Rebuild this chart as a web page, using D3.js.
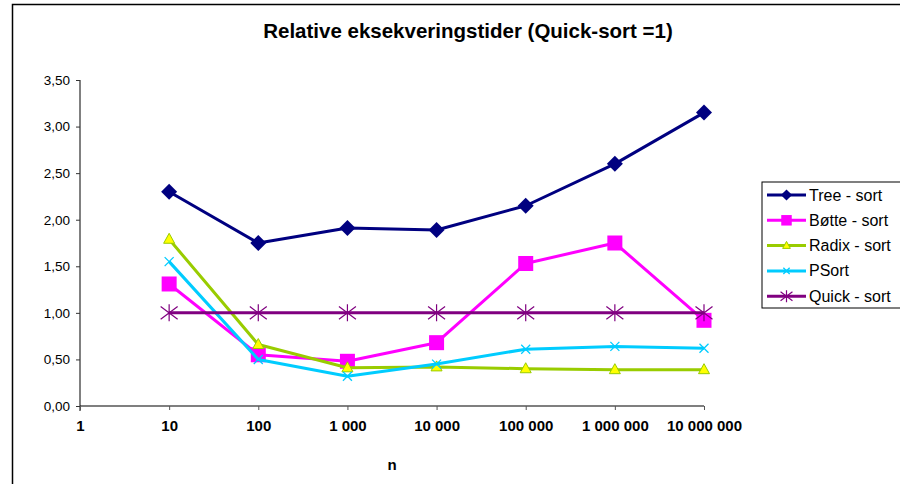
<!DOCTYPE html>
<html>
<head>
<meta charset="utf-8">
<script src="https://cdn.jsdelivr.net/npm/d3@7"></script>
<style>
  html, body { margin: 0; padding: 0; background: #fff; }
  svg { display: block; font-family: "Liberation Sans", Arial, sans-serif; }
</style>
</head>
<body>
<svg id="chart" width="900" height="484"></svg>
<script>
// relative run times, Quick-sort = 1
const CATEGORIES = ["1", "10", "100", "1 000", "10 000", "100 000", "1 000 000", "10 000 000"];
const N_VALUES   = ["10", "100", "1 000", "10 000", "100 000", "1 000 000", "10 000 000"];
const TREE  = [2.30, 1.75, 1.91, 1.89, 2.15, 2.60, 3.15];
const BOTTE = [1.31, 0.55, 0.48, 0.68, 1.53, 1.75, 0.92];
const RADIX = [1.79, 0.66, 0.41, 0.42, 0.40, 0.39, 0.39];
const PSORT = [1.55, 0.50, 0.32, 0.45, 0.61, 0.64, 0.62];
const QUICK = [1.00, 1.00, 1.00, 1.00, 1.00, 1.00, 1.00];
const Y_TICKS = [0, 0.5, 1, 1.5, 2, 2.5, 3, 3.5];

const SERIES = [
  {name: "Tree - sort",  values: TREE,  color: "#000080", marker: "diamond"},
  {name: "Bøtte - sort", values: BOTTE, color: "#ff00ff", marker: "square"},
  {name: "Radix - sort", values: RADIX, color: "#99cc00", marker: "triangle"},
  {name: "PSort",        values: PSORT, color: "#00ccff", marker: "cross"},
  {name: "Quick - sort", values: QUICK, color: "#800080", marker: "star"},
];

const svg = d3.select("#chart");
const x = d3.scalePoint(CATEGORIES, [80, 704]);
const y = d3.scaleLinear([0, 3.5], [406, 80]);
const comma = d3.formatLocale({decimal: ",", thousands: " ", grouping: [3], currency: ["", ""]}).format(".2f");

// outer frame
svg.append("path").attr("d", "M12.5,490V4.5H905")
  .attr("fill", "none").attr("stroke", "#000").attr("stroke-width", 1.5);

svg.append("text").attr("x", 468).attr("y", 38).attr("text-anchor", "middle")
  .attr("font-weight", "bold").attr("font-size", 20.5).attr("fill", "#000")
  .text("Relative eksekveringstider (Quick-sort =1)");

// y axis
const yAxis = svg.append("g").attr("transform", "translate(80,0)")
  .call(d3.axisLeft(y).tickValues(Y_TICKS).tickFormat(comma).tickSize(4).tickPadding(6));
yAxis.select(".domain").attr("d", "M0,80V411").attr("stroke", "#808080").attr("stroke-width", 2);
yAxis.selectAll(".tick line").attr("stroke", "#333");
yAxis.selectAll(".tick text").attr("font-size", 13.5).attr("fill", "#000")
  .attr("font-family", "Liberation Sans, Arial, sans-serif");

// x axis
const xAxis = svg.append("g").attr("transform", "translate(0,406)")
  .call(d3.axisBottom(x).tickSize(4).tickPadding(10));
xAxis.select(".domain").attr("d", "M80,0H704").attr("stroke", "#000").attr("stroke-width", 1.2);
xAxis.selectAll(".tick line").attr("stroke", "#555");
xAxis.selectAll(".tick text").attr("font-size", 15).attr("font-weight", "bold").attr("fill", "#000")
  .attr("font-family", "Liberation Sans, Arial, sans-serif");

svg.append("text").attr("x", 392).attr("y", 470).attr("text-anchor", "middle")
  .attr("font-weight", "bold").attr("font-size", 15).text("n");

function marker(g, kind, color, s) {
  if (kind === "diamond") {
    const r = 8 * s;
    g.append("path").attr("d", `M0,${-r}L${r},0L0,${r}L${-r},0Z`).attr("fill", color);
  } else if (kind === "square") {
    g.append("rect").attr("x", -7.5 * s).attr("y", -7.5 * s).attr("width", 15 * s).attr("height", 15 * s)
      .attr("fill", color);
  } else if (kind === "triangle") {
    g.append("path").attr("d", `M0,${-6 * s}L${5.5 * s},${4 * s}L${-5.5 * s},${4 * s}Z`)
      .attr("fill", "#ffff00").attr("stroke", color).attr("stroke-width", 1);
  } else if (kind === "cross") {
    const r = 4.5 * s;
    g.append("path").attr("d", `M${-r},${-r}L${r},${r}M${-r},${r}L${r},${-r}`)
      .attr("stroke", color).attr("stroke-width", 1.3).attr("fill", "none");
  } else if (kind === "star") {
    const r = 8.5 * s, v = 8.5 * s;
    g.append("path").attr("d", `M${-r},${-r * 0.75}L${r},${r * 0.75}M${-r},${r * 0.75}L${r},${-r * 0.75}M0,${-v}V${v}`)
      .attr("stroke", color).attr("stroke-width", 1.2).attr("fill", "none");
  }
}

const line = d3.line().x((d, i) => x(N_VALUES[i])).y((d) => y(d));
SERIES.forEach((s) => {
  const g = svg.append("g");
  g.append("path").datum(s.values).attr("d", line).attr("fill", "none")
    .attr("stroke", s.color).attr("stroke-width", 3).attr("stroke-linejoin", "round");
  g.selectAll("g.pt").data(s.values).join("g").attr("class", "pt")
    .attr("transform", (d, i) => `translate(${x(N_VALUES[i])},${y(d)})`)
    .each(function () { marker(d3.select(this), s.marker, s.color, 1); });
});

// legend
const leg = svg.append("g");
leg.append("rect").attr("x", 762).attr("y", 182).attr("width", 150).attr("height", 126)
  .attr("fill", "#fff").attr("stroke", "#000").attr("stroke-width", 1);
SERIES.forEach((s, i) => {
  const cy = 195 + i * 25.3;
  leg.append("line").attr("x1", 767).attr("x2", 806).attr("y1", cy).attr("y2", cy)
    .attr("stroke", s.color).attr("stroke-width", 3);
  marker(leg.append("g").attr("transform", `translate(786.5,${cy})`), s.marker, s.color, 0.7);
  leg.append("text").attr("x", 809).attr("y", cy + 5.5).attr("font-size", 16).text(s.name);
});
</script>
</body>
</html>
